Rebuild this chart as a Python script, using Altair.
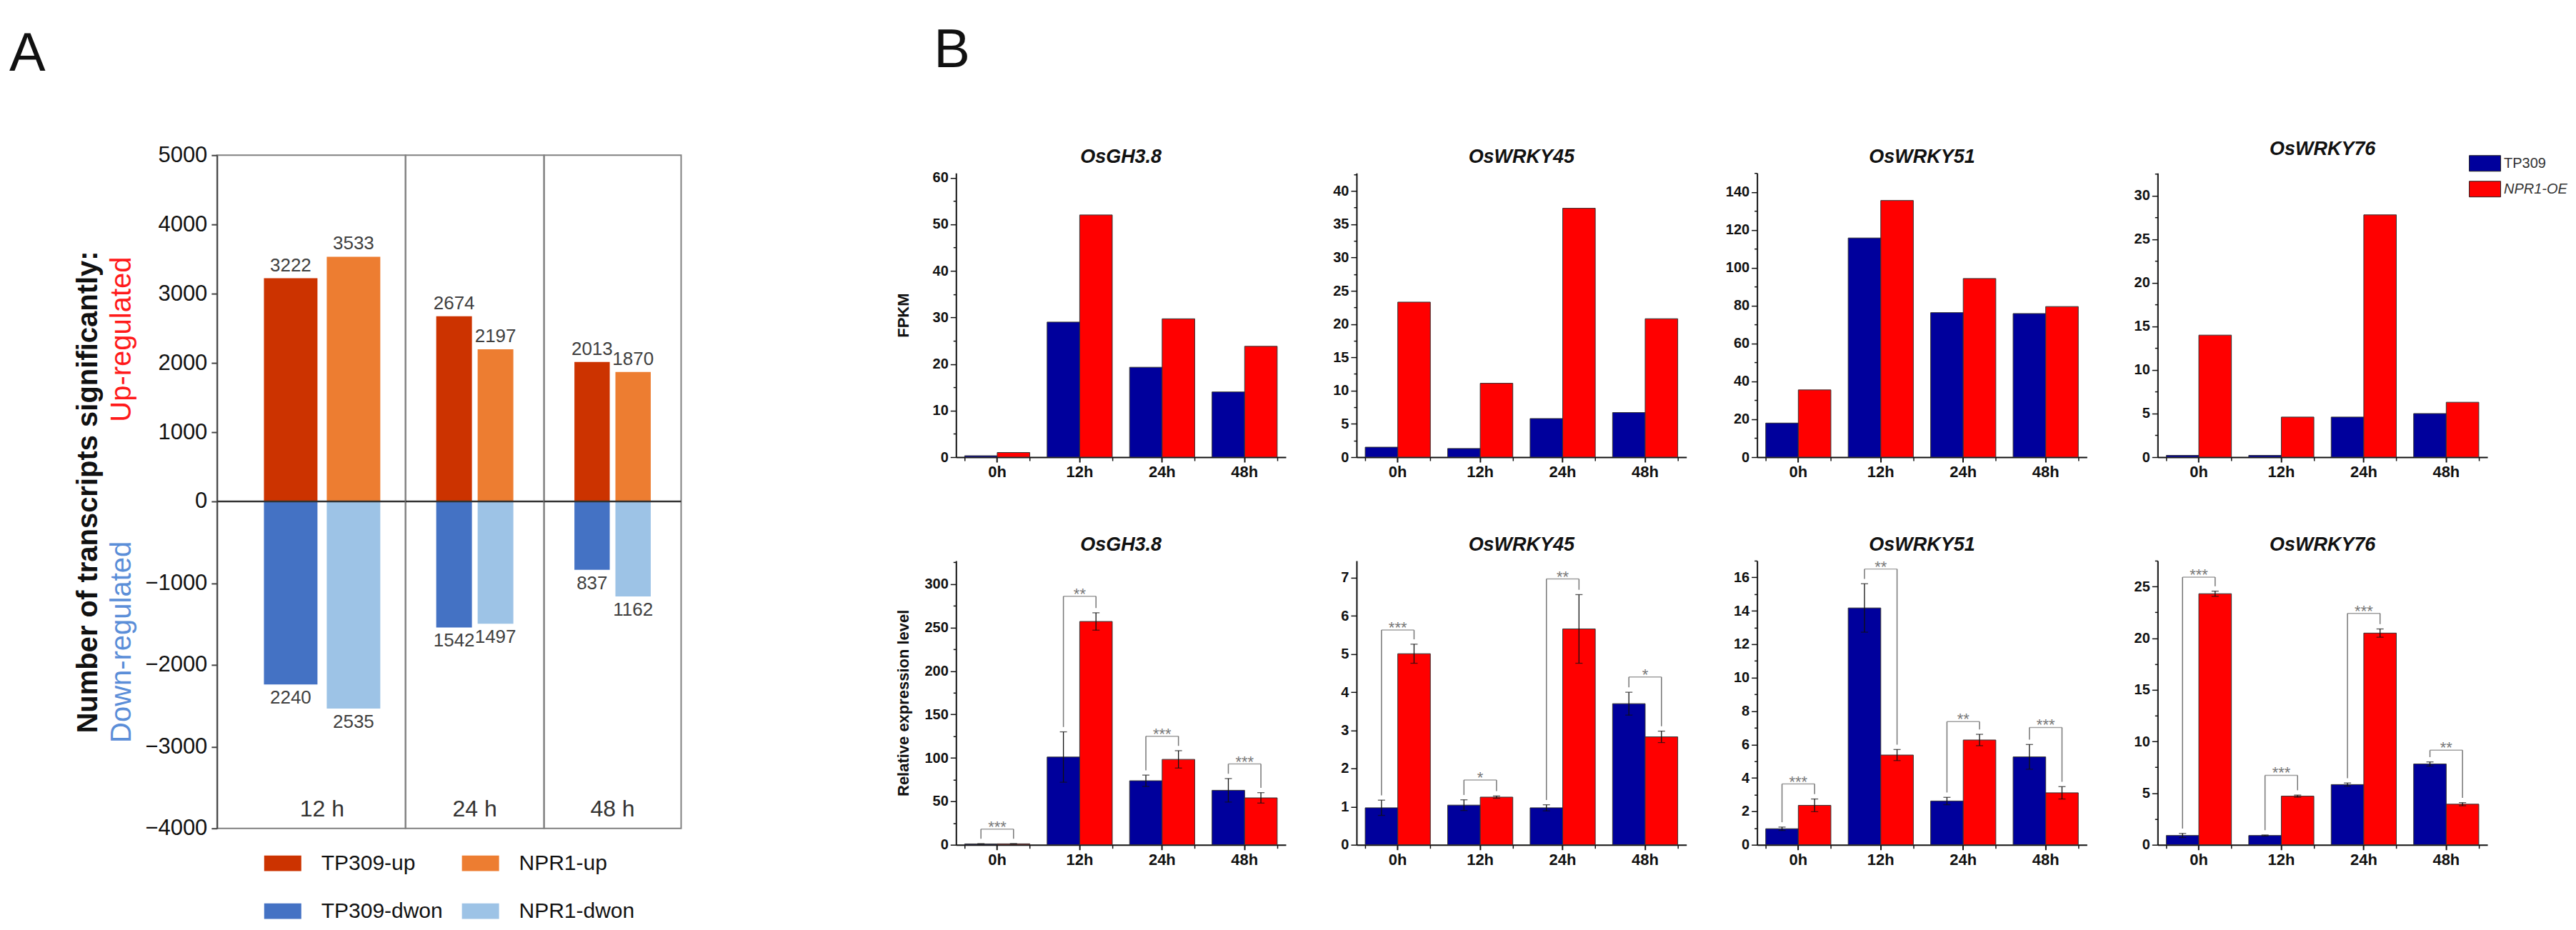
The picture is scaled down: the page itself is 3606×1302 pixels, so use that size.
import altair as alt
import pandas as pd

FONT = "Liberation Sans"
panel_letters = ["A", "B"]

# ---------------- Panel A data ----------------
a_times = ["12 h", "24 h", "48 h"]
a_strains = ["TP309", "NPR1"]
tp309_up = [3222, 2674, 2013]
npr1_up = [3533, 2197, 1870]
tp309_down = [2240, 1542, 837]
npr1_down = [2535, 1497, 1162]
a_cats = ["TP309-up", "NPR1-up", "TP309-dwon", "NPR1-dwon"]
a_colors = ["#CC3300", "#ED7D31", "#4472C4", "#9DC3E6"]
a_ticks = [-4000, -3000, -2000, -1000, 0, 1000, 2000, 3000, 4000, 5000]
a_title = "Number of transcripts significantly:"
a_up_text = "Up-regulated"
a_down_text = "Down-regulated"

# ---------------- Panel B data ----------------
genes = ["OsGH3.8", "OsWRKY45", "OsWRKY51", "OsWRKY76"]
hours = ["0h", "12h", "24h", "48h"]
genos = ["TP309", "NPR1-OE"]
b_colors = ["#00009C", "#FF0000"]
b_titles = ["FPKM", "Relative expression level"]

fpkm_tp309 = [[0.3, 29.0, 19.3, 14.0], [1.5, 1.3, 5.8, 6.7],
              [18.0, 115.7, 76.3, 75.8], [0.2, 0.2, 4.6, 5.0]]
fpkm_npr1 = [[1.0, 52.0, 29.7, 23.8], [23.3, 11.1, 37.4, 20.8],
             [35.5, 135.5, 94.3, 79.5], [14.0, 4.6, 27.8, 6.3]]
fpkm_ymax = [61, 42.7, 150, 32.6]
fpkm_major = [10, 5, 20, 5]
fpkm_minor = [5, 2.5, 10, 2.5]

rel_tp309 = [[1.0, 101, 73.7, 62.7], [0.97, 1.04, 0.97, 3.70],
             [0.96, 14.17, 2.62, 5.26], [0.9, 0.9, 5.83, 7.82]]
rel_tp309_sd = [[0.3, 29, 6.5, 13.5], [0.2, 0.14, 0.08, 0.3],
                [0.1, 1.45, 0.22, 0.74], [0.2, 0.05, 0.15, 0.2]]
rel_npr1 = [[1.1, 257, 98.3, 54.0], [5.01, 1.25, 5.66, 2.83],
            [2.36, 5.37, 6.27, 3.11], [24.3, 4.71, 20.49, 3.93]]
rel_npr1_sd = [[0.2, 10, 10, 6], [0.25, 0.03, 0.9, 0.15],
               [0.38, 0.33, 0.34, 0.37], [0.25, 0.1, 0.4, 0.15]]
rel_bracket = [[18, 286, 125, 93], [5.63, 1.70, 6.97, 4.40],
               [3.64, 16.5, 7.37, 7.02], [25.9, 6.72, 22.4, 9.15]]
rel_stars = [["***", "**", "***", "***"], ["***", "*", "**", "*"],
             ["***", "**", "**", "***"], ["***", "***", "***", "**"]]
rel_ymax = [327, 7.45, 17.0, 27.5]
rel_major = [50, 1, 2, 5]
rel_minor = [25, 0.5, 1, 2.5]

# ---------------- Panel A ----------------
A_H = 943
A_ZERO = 485
A_W = [264, 194, 192]
A_PAD = [(0.148, 0.574, 0.65), (0.138, 0.741, 0.5), (0.138, 0.741, 0.5)]

a_yscale = alt.Scale(domain=[-4000, 0, 5000], range=[A_H, A_ZERO, 0], nice=False, zero=False)
a_axis = alt.Axis(values=a_ticks, format="d", title=a_title, titleFontSize=40,
                  titleFontWeight="bold", titleColor="#111", titleX=-160,
                  labelFontSize=31, labelColor="#111", labelPadding=6,
                  tickSize=8, tickWidth=2, tickColor="#444",
                  domainColor="#444", domainWidth=2, grid=False)
a_legend = alt.Legend(orient="none", legendX=66, legendY=966, columns=2, direction="horizontal",
                      title=None, symbolType="M-1,-0.42H1V0.42H-1Z", symbolSize=2704,
                      symbolStrokeWidth=0, labelFontSize=30, labelColor="#111",
                      labelOffset=28, columnPadding=26, rowPadding=26, labelLimit=400)


def a_sub(i):
    W = A_W[i]
    pi, po, al = A_PAD[i]
    vals = [tp309_up[i], npr1_up[i], -tp309_down[i], -npr1_down[i]]
    labs = [tp309_up[i], npr1_up[i], tp309_down[i], npr1_down[i]]
    df = pd.DataFrame({"strain": a_strains * 2, "cat": a_cats, "value": vals,
                       "label": [str(v) for v in labs],
                       "dir": ["up", "up", "down", "down"]})
    ax = a_axis if i == 0 else None
    x = alt.X("strain:N", sort=a_strains,
              scale=alt.Scale(domain=a_strains, paddingInner=pi, paddingOuter=po, align=al),
              axis=None)
    y = alt.Y("value:Q", scale=a_yscale, axis=ax)
    color = alt.Color("cat:N", scale=alt.Scale(domain=a_cats, range=a_colors),
                      legend=a_legend if i == 0 else None)
    base = alt.Chart(df)
    bars = base.mark_bar().encode(x=x, y=y, color=color)
    up = base.transform_filter("datum.dir == 'up'").mark_text(
        baseline="bottom", dy=-5, fontSize=26, color="#404040").encode(x=x, y=y, text="label:N")
    dn = base.transform_filter("datum.dir == 'down'").mark_text(
        baseline="top", dy=6, fontSize=26, color="#404040").encode(x=x, y=y, text="label:N")
    zero = alt.Chart(pd.DataFrame({"value": [0]})).mark_rule(color="#333", strokeWidth=2.5).encode(
        y=alt.Y("value:Q", scale=a_yscale, axis=ax))
    step = W / (2 - pi + 2 * po)
    off = (W - step * (2 - pi)) * al
    cx = off + (step + step * (1 - pi)) / 2
    tl = alt.Chart(pd.DataFrame({"t": [a_times[i]]})).mark_text(
        fontSize=32, color="#333").encode(x=alt.value(cx), y=alt.value(916), text="t:N")
    layers = [bars, zero, up, dn, tl]
    if i == 0:
        letter = alt.Chart(pd.DataFrame({"t": [panel_letters[0]]})).mark_text(
            fontSize=76, align="left", baseline="alphabetic", color="#111").encode(
            x=alt.value(-291), y=alt.value(-118), text="t:N")
        upt = alt.Chart(pd.DataFrame({"t": [a_up_text]})).mark_text(
            fontSize=40, angle=270, color="#FF1A1A").encode(
            x=alt.value(-133), y=alt.value(258), text="t:N")
        dnt = alt.Chart(pd.DataFrame({"t": [a_down_text]})).mark_text(
            fontSize=40, angle=270, color="#5B8ED8").encode(
            x=alt.value(-133), y=alt.value(682), text="t:N")
        layers += [letter, upt, dnt]
    return alt.layer(*layers).properties(
        width=W, height=A_H, view=alt.ViewBackground(stroke="#808080", strokeWidth=2))


A = alt.hconcat(*[a_sub(i) for i in range(3)], spacing=0, bounds="flush").resolve_scale(
    color="independent")

# ---------------- Panel B ----------------
B_W = 462
B_TOP = 25          # blank band above each B plot (B plots sit lower than A)
B_H = 398 + B_TOP
b_legend = alt.Legend(orient="none", legendX=436, legendY=B_TOP - 36, title=None,
                      symbolType="M-1,-0.5H1V0.5H-1Z", symbolSize=1936,
                      symbolStrokeColor="#222", symbolStrokeWidth=1,
                      labelFontSize=20, labelOffset=4, rowPadding=-20, labelColor="#333",
                      labelFontStyle=alt.ExprRef("datum.value == 'NPR1-OE' ? 'italic' : 'normal'"))

x_axis = alt.Axis(title=None, orient="bottom", labelFontSize=22, labelFontWeight="bold",
                  labelColor="#111", labelAngle=0, tickSize=7, tickColor="#111", tickWidth=2,
                  domainColor="#111", domainWidth=2, labelPadding=4)
x_minor_axis = alt.Axis(title=None, orient="bottom", tickBand="extent", labels=False,
                        domain=False, tickSize=5, tickWidth=1.5, tickColor="#111")


def b_yaxis(vals, major, title):
    test = f"abs(datum.value / {major} - round(datum.value / {major})) < 0.001"
    return alt.Axis(values=vals, format="d", labelExpr=f"{test} ? datum.label : ''",
                    tickSize={"condition": {"test": test, "value": 8}, "value": 4},
                    tickWidth=1.5, tickColor="#111", domainColor="#111", domainWidth=2,
                    labelFontSize=20, labelFontWeight="bold", labelColor="#111",
                    labelPadding=3, grid=False, title=title, titleFontSize=22,
                    titleFontWeight="bold", titleColor="#111", titleX=-62)


def b_plot(g, row):
    top = row == 0
    if top:
        tv, nv = fpkm_tp309[g], fpkm_npr1[g]
        ymax, major, minor = fpkm_ymax[g], fpkm_major[g], fpkm_minor[g]
    else:
        tv, nv = rel_tp309[g], rel_npr1[g]
        ymax, major, minor = rel_ymax[g], rel_major[g], rel_minor[g]
    n = int(ymax / minor + 1e-9)
    ticks = [round(k * minor, 4) for k in range(n + 1)]
    ys = alt.Scale(domain=[0, ymax], range=[B_H, B_TOP], nice=False, zero=False)
    ya = b_yaxis(ticks, major, b_titles[row] if g == 0 else None)
    xsc = alt.Scale(domain=hours, paddingInner=0.21, paddingOuter=0.105)
    x = alt.X("hour:N", sort=hours, scale=xsc, axis=x_axis)
    xo = alt.XOffset("geno:N", sort=genos,
                     scale=alt.Scale(domain=genos, paddingInner=0, paddingOuter=0))
    df = pd.DataFrame({"hour": hours * 2, "geno": [genos[0]] * 4 + [genos[1]] * 4,
                       "val": list(tv) + list(nv)})
    color = alt.Color("geno:N", scale=alt.Scale(domain=genos, range=b_colors),
                      legend=b_legend if (top and g == 3) else None)
    bars = alt.Chart(df).mark_bar(stroke="#333", strokeWidth=1).encode(
        x=x, xOffset=xo, y=alt.Y("val:Q", scale=ys, axis=ya), color=color)
    layers = [bars]
    if not top:
        ts, ns = rel_tp309_sd[g], rel_npr1_sd[g]
        sd = list(ts) + list(ns)
        mean = list(tv) + list(nv)
        edf = pd.DataFrame({"hour": hours * 2, "geno": [genos[0]] * 4 + [genos[1]] * 4,
                            "lo": [m - s for m, s in zip(mean, sd)],
                            "hi": [m + s for m, s in zip(mean, sd)]})
        eb = alt.Chart(edf)
        rule = eb.mark_rule(color="#111", strokeWidth=1.3).encode(
            x=x, xOffset=xo, y=alt.Y("lo:Q", scale=ys, axis=ya), y2="hi:Q")
        cap_hi = eb.mark_tick(color="#111", thickness=1.3, size=10).encode(
            x=x, xOffset=xo, y=alt.Y("hi:Q", scale=ys, axis=ya))
        cap_lo = eb.mark_tick(color="#111", thickness=1.3, size=10).encode(
            x=x, xOffset=xo, y=alt.Y("lo:Q", scale=ys, axis=ya))
        gap = 0.017 * ymax
        ldf = pd.DataFrame({"hour": hours * 2, "geno": [genos[0]] * 4 + [genos[1]] * 4,
                            "l0": [h + gap for h in edf["hi"]],
                            "l1": rel_bracket[g] * 2})
        legs = alt.Chart(ldf).mark_rule(color="#777", strokeWidth=1.5).encode(
            x=x, xOffset=xo, y=alt.Y("l0:Q", scale=ys, axis=ya), y2="l1:Q")
        bdf = pd.DataFrame({"hour": hours, "br": rel_bracket[g], "star": rel_stars[g]})
        hbar = alt.Chart(bdf).mark_tick(color="#777", thickness=1.5, size=45.6).encode(
            x=x, y=alt.Y("br:Q", scale=ys, axis=ya))
        stars = alt.Chart(bdf).mark_text(color="#777", fontSize=22, baseline="alphabetic",
                                         dy=4).encode(
            x=x, y=alt.Y("br:Q", scale=ys, axis=ya), text="star:N")
        layers += [rule, cap_hi, cap_lo, legs, hbar, stars]
    main = alt.layer(*layers)
    minor_x = alt.Chart(df).mark_bar(opacity=0).encode(
        x=alt.X("hour:N", sort=hours, scale=xsc, axis=x_minor_axis), xOffset=xo,
        y=alt.Y("val:Q", scale=ys, axis=ya))
    return alt.layer(main, minor_x).resolve_axis(x="independent").properties(
        width=B_W, height=B_H,
        title=alt.TitleParams(text=genes[g], fontSize=27, fontWeight="bold",
                              fontStyle="italic", color="#111", offset=8 - B_TOP))


B = alt.concat(*[b_plot(g, r) for r in (0, 1) for g in range(4)], columns=4,
               spacing={"row": 120, "column": 99}, bounds="flush",
               title=alt.TitleParams(text=panel_letters[1], anchor="start", fontSize=76,
                                     fontWeight="normal", color="#111", offset=85, dx=54)
               ).resolve_scale(color="independent")

chart = alt.hconcat(A, B, spacing=297).resolve_scale(color="independent").properties(
    padding={"left": 4, "top": 25, "right": 4, "bottom": 4}
).configure(font=FONT).configure_view(strokeWidth=0)

chart.save("out.html", embed_options={"renderer": "svg", "actions": False})
